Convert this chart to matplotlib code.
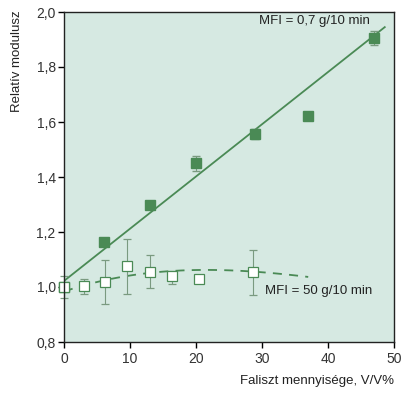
import matplotlib
matplotlib.use("Agg")
import matplotlib.pyplot as plt
import numpy as np

plt.rcParams['font.family'] = ['Liberation Sans', 'DejaVu Sans']

# High MFI (0.7 g/10 min) series - filled squares
hi_x = [0, 6, 13, 20, 29, 37, 47]
hi_y = [1.00, 1.163, 1.298, 1.45, 1.556, 1.622, 1.905]
hi_err = [0.0, 0.015, 0.0, 0.028, 0.018, 0.012, 0.025]
hi_line_x = [0, 48.6]
hi_line_y = [1.022, 1.945]

# Low MFI (50 g/10 min) series - open squares
lo_x = [0, 3, 6.2, 9.5, 13, 16.4, 20.4, 28.6]
lo_y = [1.00, 1.005, 1.02, 1.075, 1.055, 1.04, 1.03, 1.055]
lo_err_lo = [0.04, 0.03, 0.08, 0.10, 0.06, 0.03, 0.008, 0.085]
lo_err_hi = [0.04, 0.025, 0.08, 0.10, 0.06, 0.02, 0.008, 0.08]
lo_curve_x = [0, 5, 10, 15, 20, 25, 30, 37]
lo_curve_y = [0.985, 1.015, 1.043, 1.057, 1.062, 1.06, 1.053, 1.037]

xticks = [0, 10, 20, 30, 40, 50]
yticks = [0.8, 1.0, 1.2, 1.4, 1.6, 1.8, 2.0]

green = '#4a8a55'
bg = '#d6e9e2'

fig = plt.figure(figsize=(4.10, 3.96), dpi=100)
ax = fig.add_axes([64/410, 1-342/396, 330/410, 330/396])
ax.set_facecolor(bg)

ax.plot(hi_line_x, hi_line_y, color=green, lw=1.3, zorder=2)
e1 = ax.errorbar(hi_x, hi_y, yerr=hi_err, fmt='s', color=green, ms=7.5, mec=green,
                 mfc=green, ecolor='#7a9a80', elinewidth=0.8, capsize=3, zorder=3)
for art in e1.lines[0:1]:
    art.set_clip_on(False)

xs = np.linspace(lo_curve_x[0], lo_curve_x[-1], 100)
coef = np.polyfit(lo_curve_x, lo_curve_y, 3)
ax.plot(xs, np.polyval(coef, xs), color=green, lw=1.3, ls=(0, (5, 4)), zorder=2)
e2 = ax.errorbar(lo_x, lo_y, yerr=[lo_err_lo, lo_err_hi], fmt='s', color=green, ms=7.5,
                 mec=green, mfc='white', mew=0.9, ecolor='#7a9a80', elinewidth=0.8,
                 capsize=3, zorder=4)
e2.lines[0].set_clip_on(False)
for c in e2.lines[1]:
    c.set_clip_on(False)
for c in e2.lines[2]:
    c.set_clip_on(False)

ax.set_xlim(0, 50)
ax.set_ylim(0.8, 2.0)
ax.set_xticks(xticks)
ax.set_yticks(yticks)
ax.set_yticklabels([f"{v:.1f}".replace('.', ',') for v in yticks])
ax.set_xticklabels([str(v) for v in xticks])
ax.tick_params(direction='out', length=4, width=1, labelsize=10, color='black', labelcolor='#333333')
ax.tick_params(axis='y', pad=2)
for s in ax.spines.values():
    s.set_linewidth(1.0)
    s.set_color('#222222')
    s.set_zorder(5)

ax.text(46.4, 1.968, 'MFI = 0,7 g/10 min', ha='right', va='center', fontsize=9.5, color='#222222')
ax.text(30.4, 0.985, 'MFI = 50 g/10 min', ha='left', va='center', fontsize=9.5, color='#222222')

ax.set_xlabel('Faliszt mennyisége, V/V%', fontsize=9.5, color='#222222', loc='right', labelpad=6)
ax.set_ylabel('Relatív modulusz', fontsize=9.5, color='#222222', loc='top', labelpad=6)
ax.yaxis.set_label_coords(-0.125, 1.005)

fig.savefig('out.png', dpi=100)
